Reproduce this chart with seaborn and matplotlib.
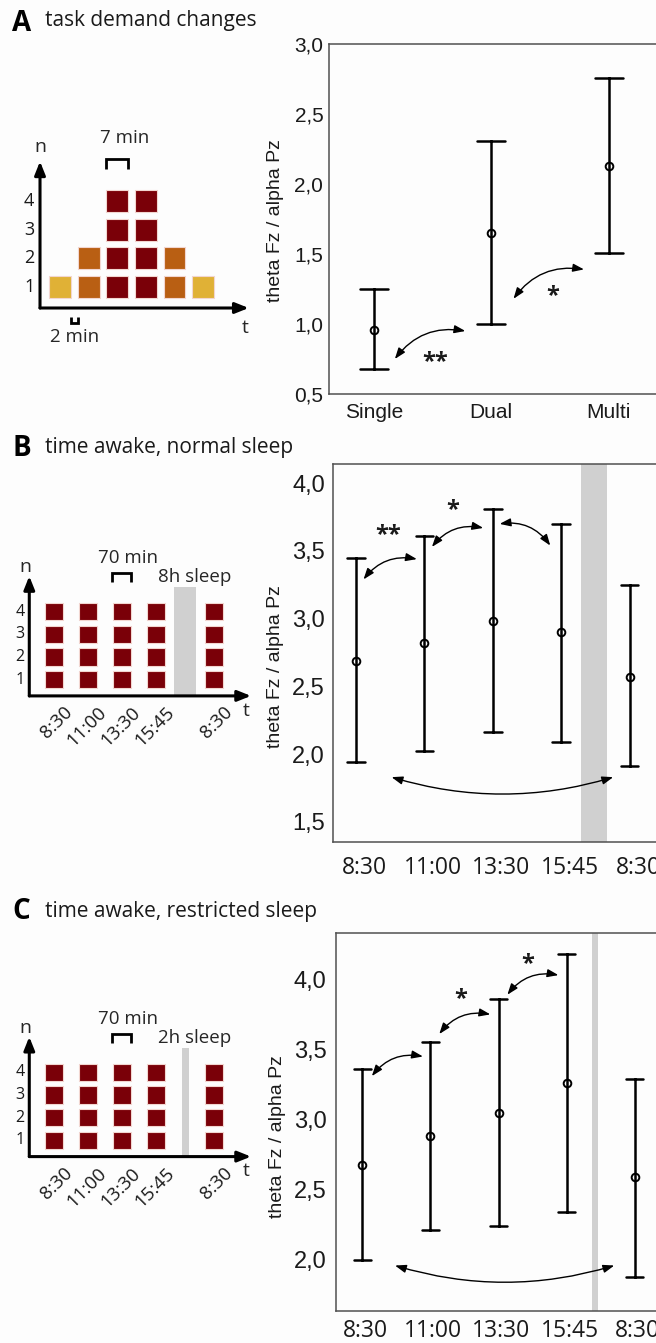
import numpy as np
import pandas as pd
import matplotlib
matplotlib.use("Agg")
import matplotlib.pyplot as plt
import seaborn as sns
from matplotlib.ticker import FuncFormatter

# ---------------- data ----------------
# Panel A: task demand
task_conditions = ["Single", "Dual", "Multi"]
task_mean = [0.96, 1.65, 2.13]
task_low = [0.68, 1.00, 1.51]
task_high = [1.25, 2.31, 2.76]

# Panel B / C: time awake
session_times = ["8:30", "11:00", "13:30", "15:45", "8:30"]
session_keys = ["d1 8:30", "d1 11:00", "d1 13:30", "d1 15:45", "d2 8:30"]

normal_mean = [2.69, 2.82, 2.98, 2.90, 2.57]
normal_low = [1.94, 2.02, 2.16, 2.09, 1.91]
normal_high = [3.45, 3.61, 3.81, 3.70, 3.25]

restricted_mean = [2.68, 2.88, 3.05, 3.26, 2.59]
restricted_low = [2.00, 2.21, 2.24, 2.34, 1.88]
restricted_high = [3.36, 3.55, 3.86, 4.18, 3.29]

# schematics: number of simultaneous tasks in each block
task_blocks = [1, 2, 4, 4, 2, 1]
session_blocks = [4, 4, 4, 4, 4]
session_slots = [0, 1, 2, 3, 4.72]
n_levels = [1, 2, 3, 4]
load_colors = {1: "#e0b136", 2: "#b95f13", 4: "#7a0008"}

# significance arrows: (x1, y1, x2, y2, rad, label, label_x, label_y)
sig_a = [(0.18, 0.75, 0.78, 0.95, -0.3, "**", 0.52, 0.73),
         (1.19, 1.18, 1.79, 1.39, -0.3, "*", 1.52, 1.20)]
sig_b = [(0.11, 3.29, 0.89, 3.44, -0.3, "**", 0.47, 3.62),
         (1.11, 3.53, 1.86, 3.67, -0.3, "*", 1.42, 3.80),
         (2.10, 3.70, 2.84, 3.54, -0.3, "", 0, 0),
         (0.52, 1.83, 3.76, 1.83, 0.15, "", 0, 0)]
sig_c = [(0.14, 3.31, 0.89, 3.45, -0.3, "", 0, 0),
         (1.13, 3.61, 1.88, 3.75, -0.3, "*", 1.44, 3.86),
         (2.13, 3.89, 2.88, 4.03, -0.3, "*", 2.43, 4.11),
         (0.48, 1.96, 3.70, 1.96, 0.15, "", 0, 0)]

sleep_band_b = (3.29, 3.665)
sleep_band_c = (3.37, 3.466)

# ---------------- style ----------------
sns.set_theme(style="white")
SANS = ["Liberation Sans", "DejaVu Sans"]
HUMAN = ["Open Sans", "DejaVu Sans"]
plt.rcParams["font.family"] = SANS
plt.rcParams["axes.edgecolor"] = "#505050"
plt.rcParams["axes.linewidth"] = 1.1

W, H = 656, 1343
fig = plt.figure(figsize=(W / 100, H / 100), dpi=100, facecolor="#fdfdfd")


def px_axes(x0, y0, x1, y1):
    return fig.add_axes([x0 / W, 1 - y1 / H, (x1 - x0) / W, (y1 - y0) / H])


comma = FuncFormatter(lambda v, _: f"{v:.1f}".replace(".", ","))


def error_panel(box, keys, labels, mean, low, high, xlim, ylim, yticks,
                ytick_fs, xtick_fs, xfont, xpad, ypad, capsize, label_shift,
                ylabel_xy, sig, band=None):
    ax = px_axes(*box)
    ax.set_facecolor("none")
    df = pd.DataFrame({
        "cond": np.repeat(keys, 3),
        "val": np.column_stack([low, mean, high]).ravel(),
    })
    sns.pointplot(data=df, x="cond", y="val", order=keys,
                  estimator="median",
                  errorbar=lambda v: (v.min(), v.max()),
                  capsize=capsize, color="black", linestyle="none",
                  marker="o", markersize=5.5, markerfacecolor="none",
                  markeredgewidth=1.4, err_kws={"linewidth": 1.8},
                  ax=ax)
    if band is not None:
        ax.axvspan(*band, color="#d0d0d0", lw=0, zorder=0)
    ax.set_xlim(*xlim)
    ax.set_ylim(*ylim)
    ax.set_yticks(yticks)
    ax.yaxis.set_major_formatter(comma)
    ax.set_xticks(np.arange(len(keys)) + label_shift)
    ax.set_xticklabels(labels, fontsize=xtick_fs, family=xfont)
    for t in ax.get_yticklabels():
        t.set_fontsize(ytick_fs)
    ax.tick_params(axis="y", length=0, pad=ypad, colors="#1a1a1a")
    ax.tick_params(axis="x", length=0, pad=xpad, colors="#1a1a1a")
    ax.spines["right"].set_visible(False)
    ax.set_xlabel("")
    ax.set_ylabel("theta Fz / alpha Pz", fontsize=14, color="#1a1a1a")
    ax.yaxis.label.set_va("center")
    ax.yaxis.set_label_coords(ylabel_xy[0] / W, 1 - ylabel_xy[1] / H,
                              transform=fig.transFigure)
    for (x1, y1, x2, y2, rad, lab, lx, ly) in sig:
        ax.annotate("", xy=(x2, y2), xytext=(x1, y1),
                    arrowprops=dict(arrowstyle="<|-|>,head_length=0.55,head_width=0.2",
                                    connectionstyle=f"arc3,rad={rad}",
                                    lw=1.0, color="black", shrinkA=0, shrinkB=0,
                                    mutation_scale=12))
        if lab:
            ax.text(lx, ly, lab, ha="center", va="center", fontsize=17,
                    fontweight="bold", family=HUMAN, color="#1a1a1a")
    return ax


# Panel A plot
error_panel((329.3, 44, 656, 394), task_conditions, task_conditions,
            task_mean, task_low, task_high,
            (-0.378, 2.403), (0.5, 3.0), [0.5, 1.0, 1.5, 2.0, 2.5, 3.0],
            15, 15, SANS, 6.5, 4.3, 0.24, 0.0, (276, 220.7), sig_a)

# Panel B plot
error_panel((333.3, 464.3, 656, 842.3), session_keys, session_times,
            normal_mean, normal_low, normal_high,
            (-0.332, 4.386), (1.349, 4.14), [1.5, 2.0, 2.5, 3.0, 3.5, 4.0],
            17, 16.5, HUMAN, 10, 6, 0.26, 0.124, (276, 667), sig_b,
            band=sleep_band_b)

# Panel C plot
error_panel((335.7, 933.3, 656, 1310.7), session_keys, session_times,
            restricted_mean, restricted_low, restricted_high,
            (-0.391, 4.313), (1.638, 4.328), [2.0, 2.5, 3.0, 3.5, 4.0],
            17, 16.5, HUMAN, 6, 6.5, 0.245, 0.044, (277, 1136.7), sig_c,
            band=sleep_band_c)


# ---------------- schematics ----------------
def schem_axes(box, x_ref, x_unit, y_ref, y_unit):
    x0, y0, x1, y1 = box
    ax = px_axes(*box)
    ax.set_xlim((x0 - x_ref) / x_unit, (x1 - x_ref) / x_unit)
    ax.set_ylim(1 + (y_ref - y1) / y_unit, 1 + (y_ref - y0) / y_unit)
    ax.axis("off")
    ax.patch.set_visible(False)
    return ax


def axis_arrows(ax, origin, xtip, ytip):
    kw = dict(arrowstyle="-|>,head_length=0.8,head_width=0.32", lw=2.2,
              color="black", shrinkA=0, shrinkB=0, mutation_scale=10)
    ax.annotate("", xy=(xtip, origin[1]), xytext=origin, arrowprops=kw)
    ax.annotate("", xy=(origin[0], ytip), xytext=origin, arrowprops=kw)


def bracket(ax, x0, x1, ytop, yleg):
    ax.plot([x0, x0, x1, x1], [yleg, ytop, ytop, yleg], color="black",
            lw=2.0, solid_joinstyle="miter", solid_capstyle="butt")


# Panel A schematic
axA = schem_axes((0, 120, 260, 360), 60.2, 28.56, 287, 28.67)
xs, ns, cs = [], [], []
for i, k in enumerate(task_blocks):
    for n in range(1, k + 1):
        xs.append(i)
        ns.append(n)
        cs.append(load_colors[k])
axA.bar(xs, 0.757, bottom=np.array(ns) - 0.3785, width=0.76, color=cs,
        edgecolor="#f2d6d0", linewidth=0.8, zorder=2)
axis_arrows(axA, (-0.707, 0.2675), 6.6, 5.38)
for n in n_levels:
    axA.text(-1.09, n, str(n), ha="center", va="center", fontsize=13,
             family=HUMAN, color="#1a1a1a")
axA.text(-0.707, 5.88, "n", ha="center", va="center", fontsize=14, family=HUMAN)
axA.text(6.47, -0.43, "t", ha="center", va="center", fontsize=14, family=HUMAN)
axA.text(2.27, 6.2, "7 min", ha="center", va="center", fontsize=13.5, family=HUMAN)
bracket(axA, 2 - 0.38, 2 + 0.38, 5.454, 5.116)
bracket(axA, 0.39, 0.62, -0.256, -0.046)
axA.text(0.52, -0.76, "2 min", ha="center", va="center", fontsize=13.5, family=HUMAN)


def session_schematic(box, y_ref, sleep_x, sleep_label):
    ax = schem_axes(box, 53.8, 34.0, y_ref, 22.7)
    xs2, ns2 = [], []
    for s, k in zip(session_slots, session_blocks):
        for n in range(1, k + 1):
            xs2.append(s)
            ns2.append(n)
    ax.bar(xs2, 0.76, bottom=np.array(ns2) - 0.38, width=0.52,
           color=load_colors[4], edgecolor="#f2d6d0", linewidth=0.8, zorder=2)
    ax.bar((sleep_x[0] + sleep_x[1]) / 2, 5.084 - 0.282, bottom=0.282,
           width=sleep_x[1] - sleep_x[0], color="#d0d0d0", lw=0, zorder=1)
    axis_arrows(ax, (-0.721, 0.282), 5.8, 5.56)
    for n in n_levels:
        ax.text(-0.994, n, str(n), ha="center", va="center", fontsize=11.5,
                family=HUMAN, color="#1a1a1a")
    ax.text(-0.85, 5.96, "n", ha="center", va="center", fontsize=14, family=HUMAN)
    ax.text(5.65, -0.37, "t", ha="center", va="center", fontsize=14, family=HUMAN)
    ax.text(2.18, 6.36, "70 min", ha="center", va="center", fontsize=13.5, family=HUMAN)
    bracket(ax, 2 - 0.28, 2 + 0.28, 5.69, 5.29)
    ax.text(4.15, 5.524, sleep_label, ha="center", va="center", fontsize=13.5,
            family=HUMAN)
    for s, lab in zip(session_slots, session_times):
        ax.text(s + 0.27, -0.05, lab, rotation=45, ha="right", va="top",
                rotation_mode="anchor", fontsize=13.5, family=HUMAN,
                color="#1a1a1a")
    return ax


session_schematic((0, 540, 260, 760), 679.6, (3.544, 4.191), "8h sleep")
session_schematic((0, 1000, 260, 1220), 1140.3, (3.774, 3.971), "2h sleep")

# ---------------- panel titles ----------------
titles = [("A", "task demand changes", 30.7, 26.0),
          ("B", "time awake, normal sleep", 456.0, 453.3),
          ("C", "time awake, restricted sleep", 919.3, 916.7)]
for letter, text, yl, yt in titles:
    fig.text(12.5 / W, 1 - yl / H, letter, fontsize=20, fontweight="bold",
             family=HUMAN, va="baseline", ha="left", color="black")
    fig.text(45 / W, 1 - yt / H, text, fontsize=15, family=HUMAN,
             va="baseline", ha="left", color="#1a1a1a")

fig.savefig("out.png", dpi=100, facecolor=fig.get_facecolor())
